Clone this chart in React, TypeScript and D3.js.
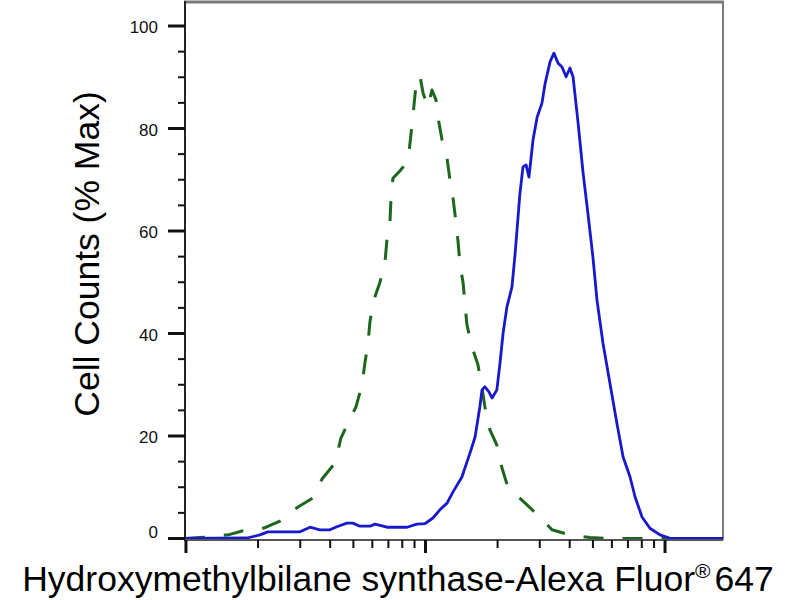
import React from 'react';
import * as d3 from 'd3';

// x values are log10 of fluorescence intensity; y values are % of max
const sampleLogX = [2.996, 3.255, 3.309, 3.342, 3.476, 3.518, 3.559, 3.601, 3.630, 3.672, 3.697, 3.726, 3.768, 3.789, 3.839, 3.923, 3.964, 3.998, 4.031, 4.060, 4.090, 4.115, 4.152, 4.186, 4.207, 4.227, 4.236, 4.248, 4.265, 4.278, 4.298, 4.311, 4.324, 4.340, 4.361, 4.374, 4.394, 4.407, 4.420, 4.432, 4.449, 4.466, 4.486, 4.499, 4.520, 4.536, 4.553, 4.570, 4.587, 4.603, 4.616, 4.637, 4.658, 4.678, 4.699, 4.716, 4.741, 4.770, 4.799, 4.825, 4.854, 4.875, 4.904, 4.937, 4.979, 5.021, 5.242];
const sampleCounts = [0.0, 0.1, 0.7, 1.3, 1.3, 2.2, 1.7, 1.7, 2.3, 3.0, 3.0, 2.4, 2.4, 2.8, 2.2, 2.2, 2.8, 2.9, 4.0, 5.6, 6.9, 9.1, 12.0, 16.7, 19.8, 25.7, 29.0, 29.6, 28.6, 27.4, 29.0, 34.2, 40.1, 45.2, 49.1, 55.5, 67.2, 72.5, 72.9, 70.5, 77.8, 82.2, 84.9, 88.7, 93.0, 94.7, 92.8, 92.0, 90.1, 91.8, 90.1, 81.1, 71.3, 63.5, 54.9, 46.5, 38.1, 30.3, 22.5, 15.9, 12.0, 8.1, 4.2, 2.0, 0.7, 0.04, 0.0];

const controlLogX = [2.996, 3.058, 3.121, 3.184, 3.238, 3.288, 3.330, 3.392, 3.463, 3.530, 3.568, 3.622, 3.647, 3.676, 3.710, 3.735, 3.747, 3.760, 3.768, 3.781, 3.810, 3.831, 3.839, 3.852, 3.856, 3.864, 3.893, 3.910, 3.927, 3.939, 3.948, 3.956, 3.964, 3.977, 3.990, 4.010, 4.027, 4.044, 4.052, 4.069, 4.090, 4.102, 4.115, 4.127, 4.136, 4.144, 4.157, 4.165, 4.173, 4.194, 4.219, 4.236, 4.248, 4.269, 4.298, 4.319, 4.344, 4.407, 4.466, 4.528, 4.603, 4.687, 4.770, 4.979, 5.242];
const controlCounts = [0.0, 0.2, 0.4, 0.8, 1.5, 1.8, 2.1, 3.4, 6.0, 7.9, 11.6, 14.7, 19.6, 22.5, 25.7, 30.0, 34.2, 38.1, 42.2, 46.1, 50.0, 54.0, 58.2, 62.1, 66.4, 70.3, 71.7, 72.7, 73.7, 78.7, 82.6, 86.5, 89.9, 90.2, 86.9, 84.2, 87.5, 85.6, 82.2, 77.8, 74.2, 70.0, 66.4, 61.8, 57.9, 53.4, 49.9, 45.6, 41.7, 37.4, 33.9, 29.4, 25.7, 21.2, 18.2, 13.8, 10.0, 7.3, 4.7, 1.7, 0.7, 0.2, 0.0, 0.0, 0.0];

const yMajorTicks = [0, 20, 40, 60, 80, 100];
const yMinorTicks = [5, 10, 15, 25, 30, 35, 45, 50, 55, 65, 70, 75, 85, 90, 95];
const xDecades = [3, 4, 5];
const xMinorMultipliers = [2, 3, 4, 5, 6, 7, 8, 9];
const yTitle = 'Cell Counts (% Max)';
const xTitleMain = 'Hydroxymethylbilane synthase-Alexa Fluor';
const xTitleMark = '®';
const xTitleEnd = '647';

export default function App() {
  const W = 800, H = 600;
  const x = d3.scaleLinear().domain([2.996, 5.242]).range([185, 723]);
  const y = d3.scaleLinear().domain([0, 100]).range([538.5, 26]);
  const top = y(104.7);
  const bottom = 540;
  const left = x(2.996);
  const right = x(5.242);

  const line = d3.line<[number, number]>().x(d => x(d[0])).y(d => y(d[1])).curve(d3.curveLinear);
  const sample = line(sampleLogX.map((v, i) => [v, sampleCounts[i]] as [number, number])) || '';
  const control = line(controlLogX.map((v, i) => [v, controlCounts[i]] as [number, number])) || '';

  const minorX: number[] = [];
  xDecades.forEach(d => xMinorMultipliers.forEach(m => {
    const v = d + Math.log10(m);
    if (v <= 5.242) minorX.push(v);
  }));

  const font = 'Liberation Sans, Arial, Helvetica, sans-serif';

  return (
    <svg width={W} height={H} style={{ position: 'absolute', left: 0, top: 0, background: '#fff' }}>
      <rect x={0} y={0} width={W} height={H} fill="#fff" />
      {/* frame */}
      <line x1={left - 1} x2={right + 1} y1={top} y2={top} stroke="#7a7a7a" strokeWidth={3} />
      <line x1={right} x2={right} y1={top} y2={bottom} stroke="#7a7a7a" strokeWidth={2} />

      {/* curves */}
      <path d={control} fill="none" stroke="#1d661d" strokeWidth={3} strokeDasharray="20 19" strokeLinejoin="round" />
      <path d={sample} fill="none" stroke="#1818cc" strokeWidth={2.8} strokeLinejoin="round" />

      {/* y axis */}
      <line x1={left} x2={left} y1={top - 1} y2={bottom + 1} stroke="#222" strokeWidth={2} />
      {yMinorTicks.map(t => (
        <line key={'ym' + t} x1={178} x2={left} y1={y(t)} y2={y(t)} stroke="#111" strokeWidth={2} />
      ))}
      {yMajorTicks.map(t => (
        <line key={'yM' + t} x1={168} x2={left} y1={y(t)} y2={y(t)} stroke="#111" strokeWidth={3} />
      ))}
      {yMajorTicks.map(t => (
        <text key={'yl' + t} x={158} y={t === 0 ? y(t) - 6 : y(t) + 1.5} textAnchor="end" dominantBaseline="central"
          fontFamily={font} fontSize={17} fill="#111">{t}</text>
      ))}

      {/* x axis */}
      <line x1={left} x2={right} y1={bottom} y2={bottom} stroke="#555" strokeWidth={2} />
      {minorX.map(v => (
        <line key={'xm' + v} x1={x(v)} x2={x(v)} y1={bottom} y2={bottom + 8} stroke="#111" strokeWidth={2} />
      ))}
      {xDecades.filter(d => d <= 5.242).map(d => (
        <line key={'xM' + d} x1={x(d)} x2={x(d)} y1={bottom} y2={bottom + 13} stroke="#111" strokeWidth={3} />
      ))}

      {/* titles */}
      <text transform={`translate(99,254) rotate(-90)`} textAnchor="middle" fontFamily={font} fontSize={35.5} fill="#000">{yTitle}</text>
      <text x={398} y={591} textAnchor="middle" fontFamily={font} fontSize={35.5} fill="#000">
        {xTitleMain}
        <tspan fontSize={21} dy={-13}>{xTitleMark}</tspan>
        <tspan fontSize={35.5} dy={13} dx={4}>{xTitleEnd}</tspan>
      </text>
    </svg>
  );
}
